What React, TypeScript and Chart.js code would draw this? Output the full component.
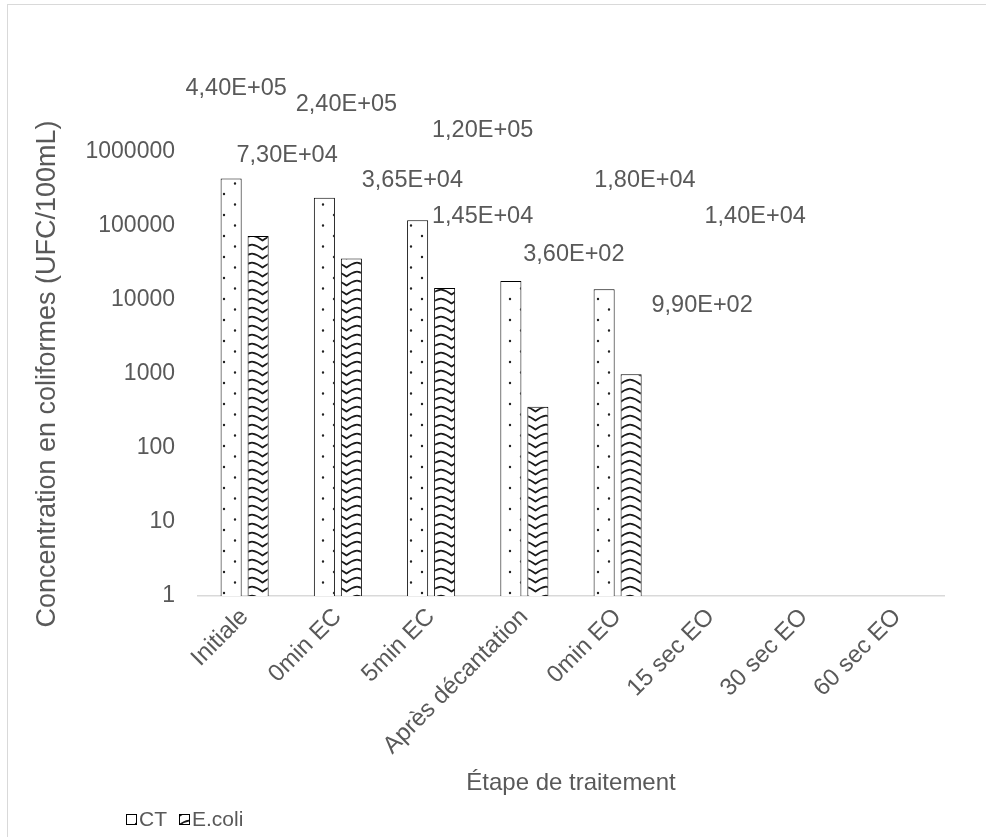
import React, { useEffect, useRef } from "react";
import { Chart, registerables } from "chart.js";

Chart.register(...registerables);

// Treatment steps and coliform counts (UFC/100mL)
const categories = [
  "Initiale",
  "0min EC",
  "5min EC",
  "Après décantation",
  "0min EO",
  "15 sec EO",
  "30 sec EO",
  "60 sec EO",
];
const ctValues = [440000, 240000, 120000, 18000, 14000, null, null, null];
const ecoliValues = [73000, 36500, 14500, 360, 990, null, null, null];
const yTickValues = [1, 10, 100, 1000, 10000, 100000, 1000000];

// Pixel nudges for the value labels (dx, dy from the bar top)
const ctLabelNudges = [[5, -90], [22, -93], [65, -90], [134, -101], [151, -73]];
const ecoliLabelNudges = [[29, -81], [61, -78], [38, -72], [36, -152], [71, -69]];

const FONT = "'Liberation Sans', Arial, Helvetica, sans-serif";
const TEXT = "#595959";
const W = 986;
const H = 837;

// 4,40E+05 style
function sci(v: number): string {
  const [m, e] = v.toExponential(2).split("e");
  const n = parseInt(e, 10);
  const exp = (n < 0 ? "-" : "+") + String(Math.abs(n)).padStart(2, "0");
  return m.replace(".", ",") + "E" + exp;
}

function dotPattern(): CanvasPattern | string {
  const c = document.createElement("canvas");
  c.width = 22;
  c.height = 21;
  const g = c.getContext("2d");
  if (!g) return "#fff";
  g.fillStyle = "#ffffff";
  g.fillRect(0, 0, 22, 21);
  g.fillStyle = "#222222";
  g.beginPath();
  g.arc(4, 5, 1.2, 0, Math.PI * 2);
  g.arc(15, 15.5, 1.2, 0, Math.PI * 2);
  g.fill();
  return g.createPattern(c, "repeat") as CanvasPattern;
}

function wavePattern(): CanvasPattern | string {
  const w = 21;
  const h = 9;
  const c = document.createElement("canvas");
  c.width = w;
  c.height = h;
  const g = c.getContext("2d");
  if (!g) return "#fff";
  g.fillStyle = "#ffffff";
  g.fillRect(0, 0, w, h);
  g.strokeStyle = "#1a1a1a";
  g.lineWidth = 1.7;
  g.beginPath();
  g.moveTo(-1, 1.5);
  g.quadraticCurveTo(5, 2, 10.5, 6.5);
  g.quadraticCurveTo(16, 2, 22, 1.5);
  g.stroke();
  return g.createPattern(c, "repeat") as CanvasPattern;
}

const valueLabels = {
  id: "valueLabels",
  afterDatasetsDraw(chart: any) {
    const ctx = chart.ctx;
    ctx.save();
    ctx.font = `23.5px ${FONT}`;
    ctx.fillStyle = TEXT;
    ctx.textAlign = "center";
    ctx.textBaseline = "middle";
    const sets = [ctLabelNudges, ecoliLabelNudges];
    chart.data.datasets.forEach((ds: any, di: number) => {
      const meta = chart.getDatasetMeta(di);
      ds.data.forEach((v: number | null, i: number) => {
        if (v == null) return;
        const bar = meta.data[i];
        const nudge = sets[di][i] || [0, -20];
        ctx.fillText(sci(v), bar.x + nudge[0], bar.y + nudge[1]);
      });
    });
    ctx.restore();
  },
};

const bottomLegend = {
  id: "bottomLegend",
  afterDraw(chart: any) {
    const ctx = chart.ctx;
    ctx.save();
    ctx.font = `21px ${FONT}`;
    ctx.textBaseline = "middle";
    ctx.textAlign = "left";
    let x = 126;
    const y = 820;
    chart.data.datasets.forEach((ds: any) => {
      ctx.fillStyle = ds.backgroundColor;
      ctx.fillRect(x, y - 6, 11, 11);
      ctx.strokeStyle = "#000";
      ctx.lineWidth = 1;
      ctx.strokeRect(x + 0.5, y - 5.5, 10, 10);
      ctx.fillStyle = TEXT;
      ctx.fillText(ds.label, x + 13, y);
      x += 13 + ctx.measureText(ds.label).width + 12;
    });
    ctx.restore();
  },
};

export default function App() {
  const ref = useRef<HTMLCanvasElement | null>(null);

  useEffect(() => {
    if (!ref.current) return;
    const chart = new Chart(ref.current, {
      type: "bar",
      data: {
        labels: categories,
        datasets: [
          {
            label: "CT",
            data: ctValues,
            backgroundColor: dotPattern() as any,
            borderColor: "#000000",
            borderWidth: 1,
            categoryPercentage: 0.579,
            barPercentage: 0.78,
          },
          {
            label: "E.coli",
            data: ecoliValues,
            backgroundColor: wavePattern() as any,
            borderColor: "#000000",
            borderWidth: 1,
            categoryPercentage: 0.579,
            barPercentage: 0.78,
          },
        ],
      },
      options: {
        responsive: false,
        animation: false,
        devicePixelRatio: 1,
        layout: { padding: { left: 0, right: 42, top: 152, bottom: 0 }, autoPadding: false },
        plugins: {
          legend: { display: false },
          title: { display: false },
          tooltip: { enabled: false },
        },
        scales: {
          x: {
            grid: { display: false, drawTicks: false },
            border: { display: true, color: "#d9d9d9", width: 1.5 },
            ticks: {
              autoSkip: false,
              maxRotation: 45,
              minRotation: 45,
              color: TEXT,
              font: { family: FONT, size: 24 },
              padding: 7,
            },
            title: {
              display: true,
              text: "Étape de traitement",
              color: TEXT,
              font: { family: FONT, size: 24 },
              padding: { top: 0, bottom: 39 },
            },
            afterFit: (s: any) => {
              s.height = 241;
            },
          },
          y: {
            type: "logarithmic",
            min: 1,
            max: 1000000,
            grid: { display: false, drawTicks: false },
            border: { display: false },
            afterBuildTicks: (s: any) => {
              s.ticks = yTickValues.map((v) => ({ value: v }));
            },
            ticks: {
              color: TEXT,
              font: { family: FONT, size: 23 },
              padding: 23,
              callback: (v: any) => String(v),
            },
            title: {
              display: true,
              text: "Concentration en coliformes (UFC/100mL)",
              color: TEXT,
              font: { family: FONT, size: 27 },
              padding: { top: 31, bottom: 0 },
            },
            afterFit: (s: any) => {
              s.width = 198;
            },
          },
        },
      },
      plugins: [valueLabels, bottomLegend],
    });
    return () => chart.destroy();
  }, []);

  return (
    <div
      style={{
        position: "fixed",
        left: 0,
        top: 0,
        width: W,
        height: H,
        overflow: "hidden",
        background: "#ffffff",
      }}
    >
      <div
        style={{
          position: "absolute",
          left: 7,
          top: 4,
          width: 2000,
          height: 2000,
          borderTop: "1px solid #d9d9d9",
          borderLeft: "1px solid #d9d9d9",
        }}
      />
      <canvas
        ref={ref}
        width={W}
        height={H}
        style={{ position: "absolute", left: 0, top: 0, width: W, height: H }}
      />
    </div>
  );
}
